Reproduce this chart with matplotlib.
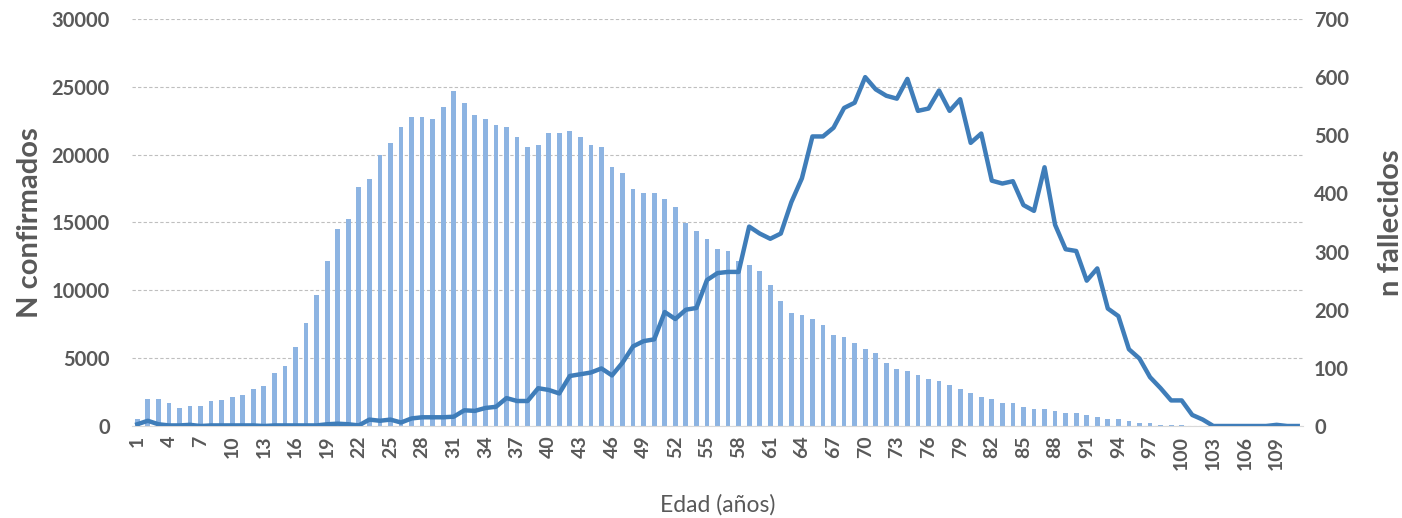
import matplotlib
matplotlib.use("Agg")
import matplotlib.pyplot as plt
import numpy as np

ages = list(range(1, 112))
confirmados = [
    480, 1970, 1970, 1670, 1350, 1500, 1500, 1820, 1940, 2110,
    2260, 2700, 2970, 3880, 4450, 5800, 7570, 9630, 12160, 14500,
    15230, 17590, 18200, 19950, 20830, 22010, 22750, 22750, 22600, 23490,
    24670, 23780, 22900, 22600, 22160, 22010, 21280, 20540, 20690, 21570,
    21570, 21720, 21280, 20690, 20540, 19060, 18620, 17440, 17150, 17150,
    16710, 16120, 14940, 14350, 13760, 13020, 12870, 12140, 11840, 11400,
    10370, 9190, 8300, 8160, 7860, 7420, 6680, 6540, 6100, 5650,
    5360, 4620, 4180, 4030, 3740, 3440, 3290, 3000, 2700, 2410,
    2110, 1970, 1670, 1670, 1380, 1230, 1230, 1080, 940, 940,
    790, 640, 490, 490, 350, 200, 200, 90, 60, 40,
    30, 20, 10, 10, 5, 5, 5, 0, 0, 0, 0,
]
fallecidos = [
    3, 9, 3, 1, 1, 2, 0, 1, 1, 1,
    1, 1, 0, 1, 1, 1, 1, 1, 3, 4,
    3, 1, 11, 9, 11, 6, 13, 15, 15, 15,
    16, 27, 26, 31, 33, 48, 43, 43, 65, 62,
    56, 86, 89, 92, 99, 87, 109, 137, 146, 149,
    196, 184, 200, 203, 251, 263, 265, 265, 343, 331,
    322, 331, 385, 426, 498, 498, 513, 547, 556, 600,
    579, 568, 563, 597, 542, 546, 577, 542, 562, 487,
    503, 422, 417, 421, 380, 370, 445, 346, 304, 301,
    250, 271, 202, 189, 132, 116, 84, 65, 44, 44,
    19, 11, 0, 0, 0, 0, 0, 0, 2, 0, 0,
]
left_ticks = [0, 5000, 10000, 15000, 20000, 25000, 30000]
right_ticks = [0, 100, 200, 300, 400, 500, 600, 700]
xlabel = "Edad (años)"
ylabel_left = "N confirmados"
ylabel_right = "n fallecidos"

FONT = "Lato"
GRAY = "#595959"

fig = plt.figure(figsize=(14.02, 5.18), dpi=100)
ax = fig.add_axes([132 / 1402, 1 - 426 / 518, (1303 - 132) / 1402, (426 - 19) / 518])
x = np.arange(len(ages))
ax.bar(x, confirmados, width=0.45, color="#8DB4E2", zorder=2)
ax.set_xlim(-0.5, len(ages) - 0.5)
ax.set_ylim(0, 30000)
ax.set_yticks(left_ticks)
ax.set_yticklabels([str(t) for t in left_ticks], fontsize=14.5, fontweight="bold",
                   color=GRAY, family=FONT)
ax.yaxis.grid(True, color="#BFBFBF", linestyle=(0, (3, 2)), linewidth=0.8, zorder=0)
ax.set_axisbelow(True)
xt = x[::3]
ax.set_xticks(xt)
ax.set_xticklabels([str(ages[i]) for i in xt], rotation=90, fontsize=14,
                   fontweight="bold", color=GRAY, family=FONT)
ax.tick_params(axis="y", length=0, pad=16)
ax.tick_params(axis="x", length=0, pad=7)
for s in ["top", "right", "left"]:
    ax.spines[s].set_visible(False)
ax.spines["bottom"].set_color("#D9D9D9")

ax2 = ax.twinx()
ax2.plot(x, fallecidos, color="#3F7DB9", linewidth=3.2, solid_joinstyle="round", zorder=3)
ax2.set_ylim(0, 700)
ax2.set_yticks(right_ticks)
ax2.set_yticklabels([str(t) for t in right_ticks], fontsize=14.5, fontweight="bold",
                    color=GRAY, family=FONT)
ax2.tick_params(axis="y", length=0, pad=8)
for s in ["top", "right", "left", "bottom"]:
    ax2.spines[s].set_visible(False)

fig.text(30 / 1402, 1 - 223 / 518, ylabel_left, rotation=90, ha="center", va="center",
         fontsize=21, fontweight="bold", color=GRAY, family=FONT)
fig.text(1391 / 1402, 1 - 223 / 518, ylabel_right, rotation=90, ha="center", va="center",
         fontsize=21, fontweight="bold", color=GRAY, family=FONT)
fig.text(718 / 1402, 1 - 505 / 518, xlabel, ha="center", va="center",
         fontsize=16.5, color=GRAY, family=FONT)

fig.savefig("out.png", dpi=100)
